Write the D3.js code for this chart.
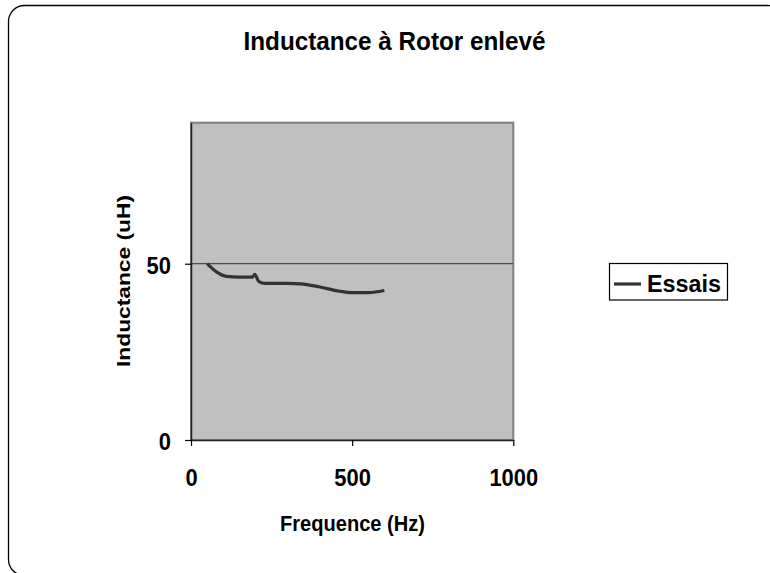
<!DOCTYPE html>
<html><head><meta charset="utf-8">
<script src="https://cdn.jsdelivr.net/npm/d3@7"></script>
<style>html,body{margin:0;padding:0;background:#fff;}svg{display:block;font-family:"Liberation Sans",Arial,sans-serif;font-weight:bold;}</style>
</head><body>
<svg id="chart" width="770" height="573"></svg>
<script>
const title = "Inductance à Rotor enlevé";
const xTitle = "Frequence (Hz)";
const yTitle = "Inductance (uH)";
const seriesName = "Essais";
const frequency = [50, 80, 110, 150, 190, 198, 210, 230, 300, 340, 400, 460, 500, 550, 600];
const inductance = [50, 47.6, 46.4, 46.2, 46.2, 47.0, 45.0, 44.4, 44.4, 44.3, 43.4, 42.2, 41.8, 41.8, 42.4];
const xTicks = [0, 500, 1000];
const yTicks = [0, 50];

const svg = d3.select("#chart");
const x = d3.scaleLinear().domain([0, 1000]).range([191, 513.3]);
const y = d3.scaleLinear().domain([0, 90]).range([440, 122.7]);

// outer frame
svg.append("rect").attr("x", 8.5).attr("y", 5.5).attr("width", 775).attr("height", 570)
  .attr("rx", 16).attr("fill", "#fff").attr("stroke", "#000").attr("stroke-width", 1.3);

// title
svg.append("text").attr("x", 394.5).attr("y", 49.5).attr("text-anchor", "middle")
  .attr("font-size", 25).attr("textLength", 302).attr("lengthAdjust", "spacingAndGlyphs").text(title);

// plot area
svg.append("rect").attr("x", x(0)).attr("y", y(90)).attr("width", x(1000) - x(0)).attr("height", y(0) - y(90))
  .attr("fill", "#c0c0c0").attr("stroke", "#808080").attr("stroke-width", 2);

// gridlines
svg.append("g").selectAll("line").data(yTicks.filter(d => d > 0)).join("line")
  .attr("x1", x(0)).attr("x2", x(1000)).attr("y1", d => y(d)).attr("y2", d => y(d))
  .attr("stroke", "#4a4a4a").attr("stroke-width", 1.2);

// axes
const yAxis = d3.axisLeft(y).tickValues(yTicks).tickSize(6).tickSizeOuter(0).tickPadding(14).tickFormat(d3.format("d"));
const gy = svg.append("g").attr("transform", `translate(${x(0)},0)`).call(yAxis);
const xAxis = d3.axisBottom(x).tickValues(xTicks).tickSize(6).tickSizeOuter(0).tickPadding(23).tickFormat(d3.format("d"));
const gx = svg.append("g").attr("transform", `translate(0,${y(0)})`).call(xAxis);
[gx, gy].forEach(g => {
  g.select(".domain").attr("stroke", "#222").attr("stroke-width", 1.5);
  g.selectAll(".tick line").attr("stroke", "#000").attr("stroke-width", 1.2);
  g.selectAll("text").attr("font-size", 24).attr("font-weight", "bold").attr("fill", "#000")
    .attr("font-family", "Liberation Sans, Arial, sans-serif")
    .attr("textLength", d => String(d).length * 12.2).attr("lengthAdjust", "spacingAndGlyphs");
});
gy.selectAll(".tick text").attr("dy", "0.4em");

// axis titles
svg.append("text").attr("x", 352.5).attr("y", 531).attr("text-anchor", "middle")
  .attr("font-size", 22).attr("textLength", 145).attr("lengthAdjust", "spacingAndGlyphs").text(xTitle);
svg.append("text").attr("transform", "translate(130,281) rotate(-90)").attr("text-anchor", "middle")
  .attr("font-size", 18).attr("textLength", 172).attr("lengthAdjust", "spacingAndGlyphs").text(yTitle);

// data line
const data = frequency.map((f, i) => [f, inductance[i]]);
const line = d3.line().x(d => x(d[0])).y(d => y(d[1])).curve(d3.curveMonotoneX);
svg.append("path").datum(data).attr("d", line).attr("fill", "none")
  .attr("stroke", "#333").attr("stroke-width", 3.2).attr("stroke-linejoin", "round");

// legend
const lg = svg.append("g");
lg.append("rect").attr("x", 609.5).attr("y", 263.5).attr("width", 118).attr("height", 36.5)
  .attr("fill", "#fff").attr("stroke", "#000").attr("stroke-width", 1.2);
lg.append("line").attr("x1", 614).attr("x2", 641).attr("y1", 284).attr("y2", 284)
  .attr("stroke", "#333").attr("stroke-width", 3.2);
lg.append("text").attr("x", 647).attr("y", 291.7).attr("font-size", 23).attr("textLength", 74)
  .attr("lengthAdjust", "spacingAndGlyphs").text(seriesName);
</script>
</body></html>
